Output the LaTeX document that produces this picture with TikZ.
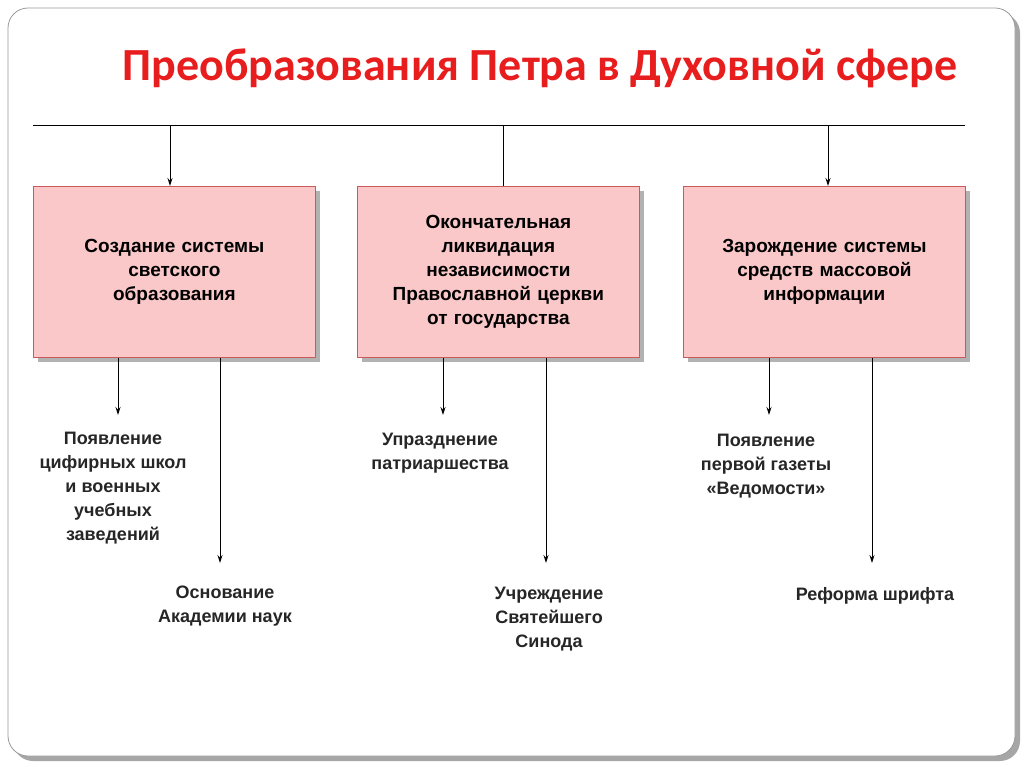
\documentclass[tikz,border=0pt]{standalone}
\usepackage{fontspec}
\setmainfont{Liberation Sans}
\newfontfamily\titlefont{Carlito}
\usetikzlibrary{arrows.meta}
\definecolor{boxfill}{RGB}{250,200,200}
\definecolor{boxline}{RGB}{200,90,90}
\definecolor{titlered}{RGB}{232,30,30}
\begin{document}
\begin{tikzpicture}[x=1pt,y=-1pt,
  box/.style={draw=boxline,fill=boxfill,line width=0.8pt,minimum width=282pt,minimum height=171pt,anchor=north west,align=center,font=\fontsize{19}{24}\selectfont\bfseries,text width=250pt},
  lbl/.style={align=center,font=\fontsize{18}{24}\selectfont\bfseries,text=black!85},
  arr/.style={-{Stealth[length=8pt,width=5pt]},line width=1pt}]
\useasboundingbox (0,0) rectangle (1024,767);
\fill[black!35,rounded corners=20pt] (13,13) rectangle (1020,761);
\draw[black!40,fill=white,rounded corners=20pt,line width=0.8pt] (8,8) rectangle (1015,756);
\node[font=\titlefont\fontsize{46}{50}\selectfont\bfseries,text=titlered] (title) at (540,68) {Преобразования Петра в Духовной сфере};
\coordinate (l0) at (33,126); \coordinate (l1) at (965,126);
\draw[line width=1pt] (l0) -- (l1);
\foreach \x in {33,357,683}{
  \fill[black!30] (\x+5,191) rectangle (\x+287,362);
}
\node[box] (A) at (33,186) {Создание системы\\светского\\образования};
\node[box] (B) at (357,186) {Окончательная\\ликвидация\\независимости\\Православной церкви\\от государства};
\node[box] (C) at (683,186) {Зарождение системы\\средств массовой\\информации};
\draw[arr] (170,126) -- (A.north -| 170,0);
\draw[line width=1pt] (503,126) -- (B.north -| 503,0);
\draw[arr] (828,126) -- (C.north -| 828,0);
\node[lbl] (a1) at (113,488) {Появление\\цифирных школ\\и военных\\учебных\\заведений};
\node[lbl] (a2) at (225,606) {Основание\\Академии наук};
\node[lbl] (b1) at (440,453) {Упразднение\\патриаршества};
\node[lbl] (b2) at (549,619) {Учреждение\\Святейшего\\Синода};
\node[lbl] (c1) at (766,466) {Появление\\первой газеты\\«Ведомости»};
\node[lbl] (c2) at (875,596) {Реформа шрифта};
\draw[arr] (A.south -| 118,0) -- (118,415);
\draw[arr] (A.south -| 220,0) -- (220,563);
\draw[arr] (B.south -| 443,0) -- (443,415);
\draw[arr] (B.south -| 546,0) -- (546,563);
\draw[arr] (C.south -| 769,0) -- (769,415);
\draw[arr] (C.south -| 872,0) -- (872,563);
\end{tikzpicture}
\end{document}
